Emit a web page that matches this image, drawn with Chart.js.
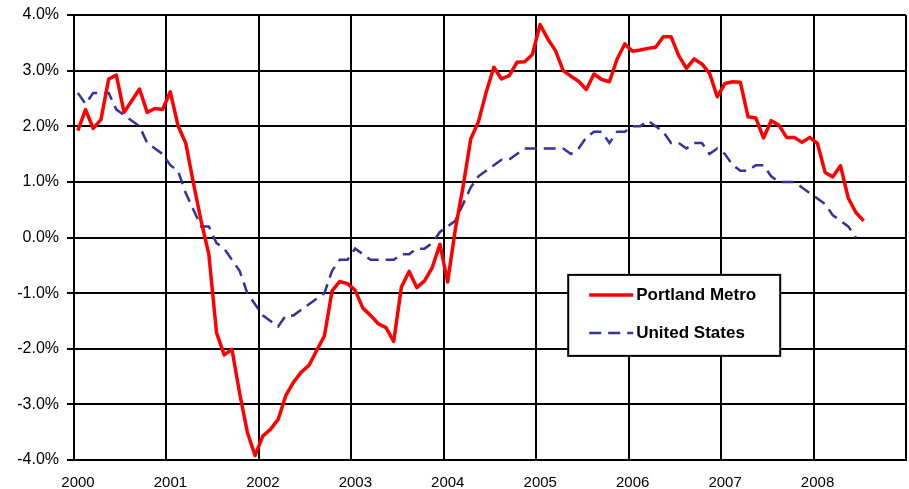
<!DOCTYPE html>
<html>
<head>
<meta charset="utf-8">
<script src="https://cdn.jsdelivr.net/npm/chart.js@4/dist/chart.umd.min.js"></script>
<style>
  html, body { margin: 0; padding: 0; background: #fff; }
  #wrap { width: 909px; height: 489px; }
</style>
</head>
<body>
<div id="wrap"><canvas id="chart" width="909" height="489"></canvas></div>
<script>
const years = ["2000", "2001", "2002", "2003", "2004", "2005", "2006", "2007", "2008"];
const seriesNames = ["Portland Metro", "United States"];

// monthly, Jan 2000 onward (% change)
const portland = [
  1.92, 2.30, 1.96, 2.12, 2.85, 2.92, 2.25, 2.46, 2.67, 2.25, 2.32, 2.30,
  2.62, 2.01, 1.70, 0.98, 0.30, -0.30, -1.71, -2.11, -2.01, -2.80, -3.50, -3.92,
  -3.57, -3.45, -3.27, -2.84, -2.60, -2.42, -2.30, -2.03, -1.77, -0.96, -0.79, -0.83,
  -0.95, -1.27, -1.40, -1.55, -1.62, -1.87, -0.89, -0.61, -0.90, -0.78, -0.54, -0.12,
  -0.80, 0.15, 0.91, 1.77, 2.08, 2.61, 3.06, 2.85, 2.91, 3.15, 3.16, 3.29,
  3.83, 3.57, 3.36, 3.00, 2.90, 2.81, 2.66, 2.94, 2.84, 2.80, 3.21, 3.48,
  3.35, 3.37, 3.40, 3.42, 3.61, 3.61, 3.27, 3.04, 3.21, 3.12, 2.95, 2.53,
  2.77, 2.80, 2.79, 2.17, 2.15, 1.79, 2.10, 2.02, 1.80, 1.80, 1.71, 1.80,
  1.69, 1.17, 1.09, 1.29, 0.71, 0.45, 0.30
];

const unitedStates = [
  2.6, 2.4, 2.6, 2.6, 2.6, 2.3, 2.2, 2.1, 2.0, 1.7, 1.6, 1.5,
  1.3, 1.2, 0.8, 0.5, 0.2, 0.2, -0.1, -0.2, -0.4, -0.6, -1.0, -1.2,
  -1.4, -1.5, -1.6, -1.4, -1.4, -1.3, -1.2, -1.1, -1.0, -0.6, -0.4, -0.4,
  -0.2, -0.3, -0.4, -0.4, -0.4, -0.4, -0.3, -0.3, -0.2, -0.2, -0.1, 0.1,
  0.2, 0.3, 0.6, 0.9, 1.1, 1.2, 1.3, 1.4, 1.4, 1.5, 1.6, 1.6,
  1.6, 1.6, 1.6, 1.6, 1.5, 1.6, 1.8, 1.9, 1.9, 1.7, 1.9, 1.9,
  2.0, 2.0, 2.1, 2.0, 1.9, 1.7, 1.7, 1.6, 1.7, 1.7, 1.5, 1.6,
  1.5, 1.3, 1.2, 1.2, 1.3, 1.3, 1.1, 1.0, 1.0, 1.0, 0.9, 0.8,
  0.7, 0.6, 0.4, 0.3, 0.2, 0.0
];

const yTicks = [-4, -3, -2, -1, 0, 1, 2, 3, 4];

// each month sits in the middle of its category slot
const toPoints = (arr) => arr.map((v, i) => ({ x: i + 0.5, y: v }));

const FONT = "'Liberation Sans', Arial, sans-serif";

const boxLegend = {
  id: "boxLegend",
  afterDraw(chart, args, opts) {
    const ctx = chart.ctx;
    const area = chart.chartArea;
    const left = area.left + (area.right - area.left) * opts.fx;
    const top = area.top + (area.bottom - area.top) * opts.fy;

    ctx.save();
    ctx.fillStyle = "#fff";
    ctx.fillRect(left, top, opts.width, opts.height);
    ctx.strokeStyle = "#000";
    ctx.lineWidth = 2;
    ctx.strokeRect(left, top, opts.width, opts.height);

    chart.data.datasets.forEach((ds, i) => {
      const y = top + opts.rowY[i];
      ctx.beginPath();
      ctx.strokeStyle = ds.borderColor;
      ctx.lineWidth = ds.borderWidth;
      ctx.setLineDash(ds.borderDash || []);
      ctx.moveTo(left + 21, y);
      ctx.lineTo(left + 65, y);
      ctx.stroke();
      ctx.setLineDash([]);

      ctx.fillStyle = "#000";
      ctx.font = "bold 17px " + FONT;
      ctx.textBaseline = "middle";
      ctx.textAlign = "left";
      ctx.fillText(ds.label, left + 68, y);
    });
    ctx.restore();
  },
};

new Chart(document.getElementById("chart"), {
  type: "line",
  data: {
    datasets: [
      {
        label: seriesNames[0],
        data: toPoints(portland),
        borderColor: "#ff0000",
        borderWidth: 3.5,
        borderJoinStyle: "round",
        pointRadius: 0,
        tension: 0,
      },
      {
        label: seriesNames[1],
        data: toPoints(unitedStates),
        borderColor: "#333399",
        borderWidth: 2.5,
        borderDash: [12, 7],
        pointRadius: 0,
        tension: 0,
      },
    ],
  },
  plugins: [boxLegend],
  options: {
    responsive: false,
    animation: false,
    events: [],
    layout: { padding: { left: 0, top: 15, right: 3, bottom: 0 } },
    plugins: {
      legend: { display: false },
      tooltip: { enabled: false },
      boxLegend: { fx: 0.594, fy: 0.584, width: 212, height: 81, rowY: [20, 58] },
    },
    scales: {
      x: {
        type: "linear",
        min: 0,
        max: years.length * 12,
        afterFit: (scale) => {
          scale.height = 29;
          scale.paddingLeft = 0;
          scale.paddingRight = 0;
        },
        afterBuildTicks: (scale) => {
          scale.ticks = years.map((y, i) => ({ value: i * 12 })).concat([{ value: years.length * 12 }]);
        },
        ticks: {
          autoSkip: false,
          maxRotation: 0,
          padding: 14,
          labelOffset: 4,
          color: "#000",
          font: { family: FONT, size: 15 },
          callback: (v) => years[v / 12] || "",
        },
        grid: { color: "#000", lineWidth: 2, drawTicks: false },
        border: { color: "#000", width: 2 },
      },
      y: {
        min: yTicks[0],
        max: yTicks[yTicks.length - 1],
        afterFit: (scale) => {
          scale.width = 74;
          scale.paddingTop = 0;
          scale.paddingBottom = 0;
        },
        afterBuildTicks: (scale) => {
          scale.ticks = yTicks.map((v) => ({ value: v }));
        },
        ticks: {
          padding: 8,
          color: "#000",
          font: { family: FONT, size: 16 },
          callback: (v) => v.toFixed(1) + "%",
        },
        grid: { color: "#000", lineWidth: 2, drawTicks: true, tickLength: 7, tickColor: "#000" },
        border: { color: "#000", width: 2 },
      },
    },
  },
});
</script>
</body>
</html>
